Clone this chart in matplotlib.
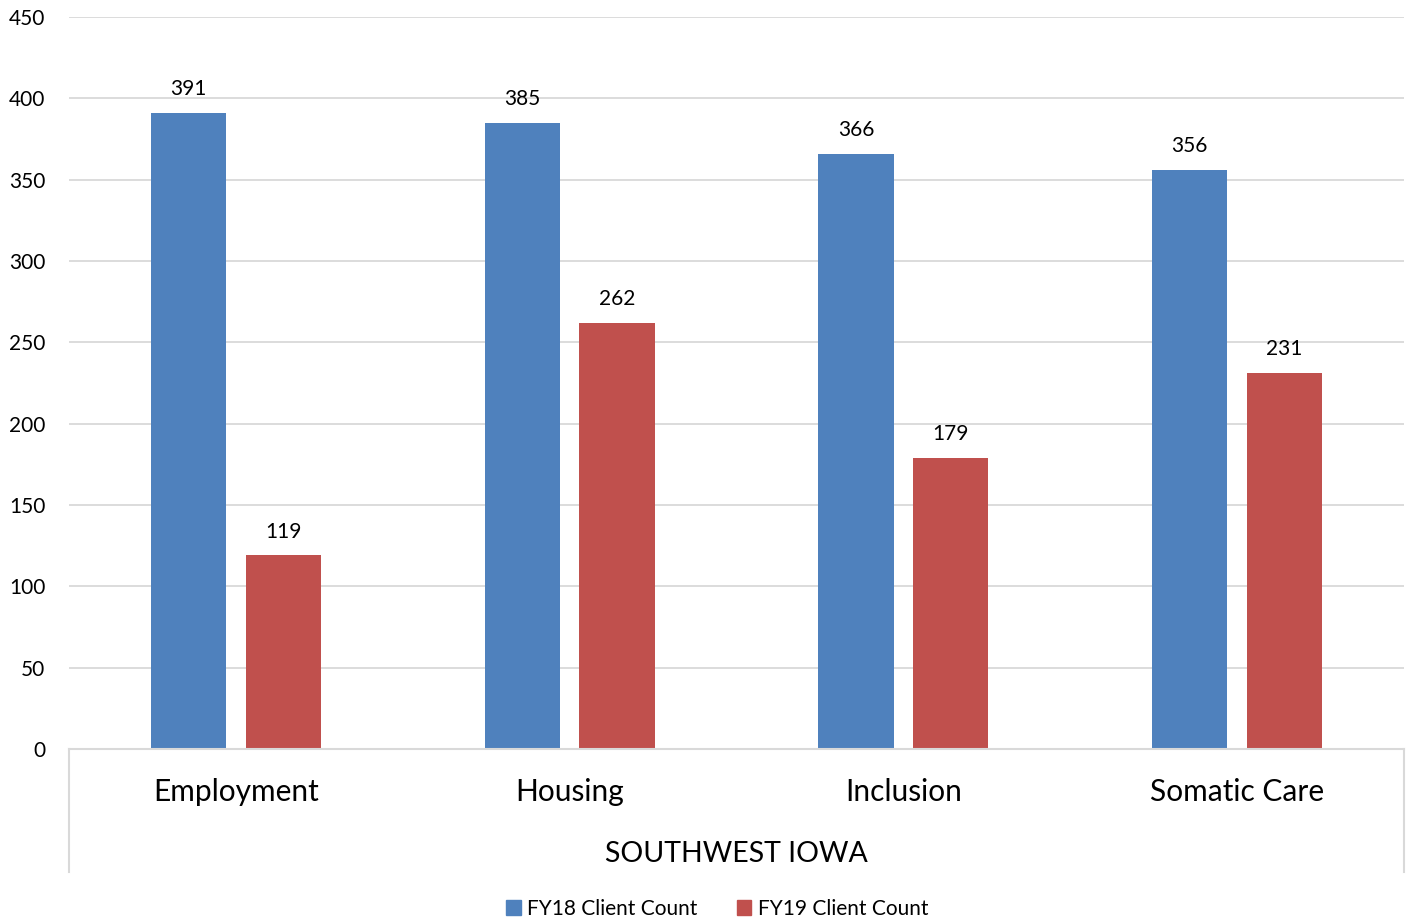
import matplotlib
matplotlib.use("Agg")
import matplotlib.pyplot as plt
import numpy as np
from matplotlib.patches import Patch

categories = ["Employment", "Housing", "Inclusion", "Somatic Care"]
fy18 = [391, 385, 366, 356]
fy19 = [119, 262, 179, 231]
series_names = ["FY18 Client Count", "FY19 Client Count"]
group_label = "SOUTHWEST IOWA"
yticks = list(range(0, 451, 50))

blue = "#4F81BD"
red = "#C0504D"
grid_c = "#D9D9D9"

plt.rcParams['font.family'] = ['Lato', 'DejaVu Sans']

W, H = 1415, 924
fig = plt.figure(figsize=(W/100, H/100), dpi=100)
left, right, top, bottom = 69, 1404, 17, 749
ax = fig.add_axes([left/W, (H-bottom)/H, (right-left)/W, (bottom-top)/H])

x = np.arange(len(categories))
bw = 0.225
off = 0.142
b1 = ax.bar(x - off, fy18, bw, color=blue, zorder=3)
b2 = ax.bar(x + off, fy19, bw, color=red, zorder=3)
for bars, vals in ((b1, fy18), (b2, fy19)):
    for r, v in zip(bars, vals):
        ax.annotate(str(v), (r.get_x() + r.get_width()/2, v), xytext=(0, 10),
                    textcoords="offset points", ha="center", va="bottom", fontsize=15)

ax.set_xlim(-0.5, len(categories) - 0.5)
ax.set_ylim(0, 450)
ax.set_yticks(yticks)
ax.set_yticklabels([str(t) for t in yticks], fontsize=15)
ax.tick_params(axis='y', length=0, pad=17)
ax.set_xticks([])
ax.grid(axis='y', color=grid_c, linewidth=1.3, zorder=0)
for s in ["top", "right", "left"]:
    ax.spines[s].set_visible(False)
ax.spines["bottom"].set_color(grid_c)
ax.spines["bottom"].set_linewidth(1.5)
ax.spines["bottom"].set_zorder(4)

# category box
depth = -(872 - 749) / (749 - 17)
for xa in (0, 1):
    ax.plot([xa, xa], [0, depth], transform=ax.transAxes, color=grid_c,
            linewidth=1.5, clip_on=False)
for i, c in enumerate(categories):
    ax.text(i, -(792 - 749) / (749 - 17) * 450, c, ha="center", va="center",
            fontsize=21.5, clip_on=False)
ax.text(0.5, -(854 - 749) / (749 - 17), group_label, transform=ax.transAxes,
        ha="center", va="center", fontsize=20.5)

handles = [Patch(color=blue), Patch(color=red)]
fig.legend(handles, series_names, loc="center", bbox_to_anchor=(717/W, 1 - 909/H),
           ncol=2, frameon=False, fontsize=15, handlelength=0.7, handleheight=0.7,
           handletextpad=0.3, columnspacing=1.9)

fig.savefig("out.png", dpi=100)
